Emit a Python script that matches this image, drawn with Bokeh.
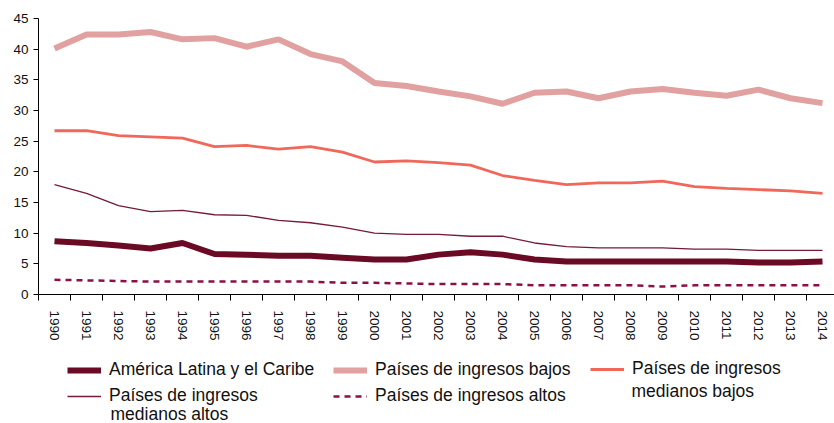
from bokeh.plotting import figure
from bokeh.models import Range1d, FixedTicker, Legend, LegendItem, Label
from bokeh.layouts import column
from bokeh.embed import file_html
from bokeh.resources import INLINE

years = list(range(1990, 2015))
alc = [8.7, 8.4, 8.0, 7.5, 8.4, 6.6, 6.5, 6.3, 6.3, 6.0, 5.7, 5.7, 6.5, 6.9, 6.5,
       5.7, 5.4, 5.4, 5.4, 5.4, 5.4, 5.4, 5.2, 5.2, 5.4]
bajos = [40.1, 42.4, 42.4, 42.8, 41.6, 41.8, 40.4, 41.6, 39.2, 38.0, 34.5, 34.0, 33.1,
         32.3, 31.1, 32.9, 33.1, 32.0, 33.1, 33.5, 32.9, 32.4, 33.4, 32.0, 31.2]
med_bajos = [26.7, 26.7, 25.9, 25.7, 25.5, 24.1, 24.3, 23.7, 24.1, 23.2, 21.6, 21.8, 21.5,
             21.1, 19.4, 18.6, 17.9, 18.2, 18.2, 18.5, 17.6, 17.3, 17.1, 16.9, 16.5]
med_altos = [17.9, 16.5, 14.5, 13.5, 13.7, 13.0, 12.9, 12.1, 11.7, 11.0, 10.0, 9.8, 9.8,
             9.5, 9.5, 8.4, 7.8, 7.6, 7.6, 7.6, 7.4, 7.4, 7.2, 7.2, 7.2]
altos = [2.4, 2.3, 2.2, 2.1, 2.1, 2.1, 2.1, 2.1, 2.1, 1.9, 1.9, 1.8, 1.7, 1.7, 1.7,
         1.5, 1.5, 1.5, 1.5, 1.3, 1.5, 1.5, 1.5, 1.5, 1.5]
y_ticks = list(range(0, 50, 5))
labels = ["América Latina y el Caribe", "Países de ingresos bajos",
          "Países de ingresos", "Países de ingresos", "Países de ingresos altos"]
labels_line2 = {2: "medianos bajos", 3: "medianos altos"}

FONT = "Liberation Sans"
STYLES = [
    dict(line_color="#6B0A25", line_width=6),
    dict(line_color="#E0A1A0", line_width=6),
    dict(line_color="#F0685A", line_width=2.8),
    dict(line_color="#741A3C", line_width=1.3),
    dict(line_color="#8B1048", line_width=2.5, line_dash="6 5"),
]
series = [alc, bajos, med_bajos, med_altos, altos]
draw_order = [1, 2, 3, 0, 4]

p = figure(width=834, height=343, output_backend="svg", toolbar_location=None,
           x_range=Range1d(1989.5, 2014.375), y_range=Range1d(0, 45),
           min_border_left=38, min_border_right=0, min_border_top=18, min_border_bottom=47)
p.outline_line_color = None
p.xgrid.visible = False
p.ygrid.visible = False

for i in draw_order:
    p.line(years, series[i], **STYLES[i])

xa = p.xaxis[0]
xa.ticker = FixedTicker(ticks=years, minor_ticks=[y - 0.5 for y in years])
xa.major_tick_line_color = None
xa.major_tick_out = 0
xa.major_tick_in = 0
xa.minor_tick_line_color = "#000000"
xa.minor_tick_out = 6
xa.minor_tick_in = 0
xa.major_label_orientation = "vertical"
xa.major_label_standoff = 10
xa.major_label_text_font = FONT
xa.major_label_text_font_size = "13.5px"
xa.major_label_text_color = "#111111"
xa.axis_line_color = "#000000"

ya = p.yaxis[0]
ya.ticker = FixedTicker(ticks=y_ticks)
ya.major_tick_out = 5
ya.major_tick_in = 0
ya.minor_tick_line_color = None
ya.major_label_standoff = 5
ya.major_label_text_font = FONT
ya.major_label_text_font_size = "13.5px"
ya.major_label_text_color = "#111111"
ya.axis_line_color = "#000000"
ya.major_tick_line_color = "#000000"

# legend panel below the chart (its lines lie outside its visible range)
q = figure(width=834, height=80, output_backend="svg", toolbar_location=None,
           x_range=Range1d(0, 1), y_range=Range1d(0, 1),
           x_axis_location=None, y_axis_location=None,
           min_border_left=0, min_border_right=0, min_border_top=0, min_border_bottom=0)
q.outline_line_color = None
q.grid.visible = False
lr = [q.line(years, series[i], **STYLES[i]) for i in range(5)]


def mk_legend(idx, loc):
    lg = Legend(items=[LegendItem(label=labels[i], renderers=[lr[i]]) for i in idx],
                location=loc, orientation="vertical",
                glyph_width=34, glyph_height=20, label_standoff=8, spacing=5,
                padding=0, margin=0, border_line_color=None, background_fill_alpha=0,
                label_text_font=FONT, label_text_font_size="17.5px",
                label_text_color="#111111", label_height=20)
    q.add_layout(lg, "center")


mk_legend([0, 3], (29, 17))
mk_legend([1, 4], (295, 17))
mk_legend([2], (552, 44))

for i, (lx, ly) in zip([3, 2], [(72, 10), (593, 33)]):
    q.add_layout(Label(x=lx, y=ly, x_units="screen", y_units="screen", text=labels_line2[i],
                       text_font=FONT, text_font_size="17.5px", text_color="#111111",
                       text_baseline="middle", text_align="left"))

open("out.html", "w").write(file_html(column(p, q, spacing=0), INLINE))
